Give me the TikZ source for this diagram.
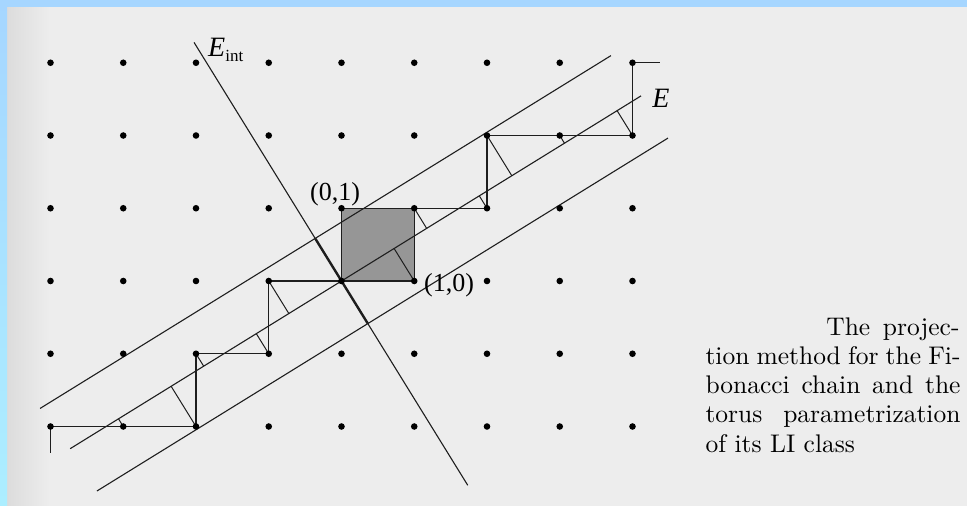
\documentclass[tikz,border=0pt]{standalone}
\usepackage{fontspec}
\newfontfamily\timesfont{Liberation Serif}
\usetikzlibrary{calc}
\definecolor{bluebar}{RGB}{166,214,255}
\definecolor{cyanbar}{RGB}{172,238,255}
\definecolor{pagebg}{RGB}{237,237,237}
\definecolor{pageedge}{RGB}{220,220,220}
\definecolor{sqfill}{RGB}{150,150,150}
\definecolor{ink}{RGB}{30,30,30}
\begin{document}
\begin{tikzpicture}[x=1pt,y=-1pt,
  dot/.style={circle,fill=black,inner sep=0pt,minimum size=6.6pt},
  ln/.style={draw=ink,line width=1.1pt},
  stair/.style={draw=ink,line width=1.15pt},
  tick/.style={draw=ink,line width=1pt},
  window/.style={draw=ink,line width=2.4pt},
  lab/.style={inner sep=0pt,font=\timesfont\fontsize{26}{26}\selectfont},
  captext/.style={inner sep=0pt,scale=2.55,font=\fontsize{10}{12}\selectfont}]
\useasboundingbox (0,0) rectangle (967,506);
% page background
\fill[pagebg] (0,0) rectangle (967,506);
\shade[left color=pageedge,right color=pagebg] (7,7) rectangle (50,506);
\fill[bluebar] (0,0) rectangle (967,7);
\shade[top color=bluebar,bottom color=cyanbar] (0,0) rectangle (7,506);
\begin{scope}[shift={(341.5pt,-281pt)},x=72.75pt,y=72.75pt]
  \def\ct{0.850651}\def\st{0.525731}\def\hw{0.688191}
  % lattice coordinates
  \foreach \m in {-4,...,4}
    \foreach \n in {-2,...,3}
      \coordinate (q\m x\n) at (\m,\n);
  % line ends
  \coordinate (Ea) at ({-4.385*\ct},{-4.385*\st});
  \coordinate (Eb) at ({4.84*\ct},{4.84*\st});
  \coordinate (Ua) at ({-4.446*\ct-\hw*\st},{-4.446*\st+\hw*\ct});
  \coordinate (Ub) at ({4.78*\ct-\hw*\st},{4.78*\st+\hw*\ct});
  \coordinate (La) at ({-4.377*\ct+\hw*\st},{-4.377*\st-\hw*\ct});
  \coordinate (Lb) at ({4.85*\ct+\hw*\st},{4.85*\st-\hw*\ct});
  \coordinate (Ia) at ({-3.856*\st},{3.856*\ct});
  \coordinate (Ib) at ({3.30*\st},{-3.30*\ct});
  \coordinate (Wa) at ({-\hw*\st},{\hw*\ct});
  \coordinate (Wb) at ({\hw*\st},{-\hw*\ct});
  \coordinate (s1) at (-4,-2.364);
  \coordinate (s2) at (4.378,3);
  % shaded unit square
  \filldraw[fill=sqfill,stair] (q0x0) -- (q1x0) -- (q1x1) -- (q0x1) -- cycle;
  % strip and spaces
  \draw[ln] (Ua) -- (Ub);
  \draw[ln] (La) -- (Lb);
  \draw[ln] (Ea) -- (Eb);
  \draw[ln] (Ia) -- (Ib);
  \draw[window] (Wa) -- (Wb);
  % projections onto E
  \foreach \p in {-3x-2,-2x-2,-2x-1,-1x-1,-1x0,1x0,1x1,2x1,2x2,3x2,4x2}
    \draw[tick] (q\p) -- ($(Ea)!(q\p)!(Eb)$);
  % staircase
  \draw[stair] (s1) -- (q-4x-2) -- (q-3x-2) -- (q-2x-2) -- (q-2x-1) -- (q-1x-1) -- (q-1x0) -- (q0x0);
  \draw[stair] (q1x1) -- (q2x1) -- (q2x2) -- (q3x2) -- (q4x2) -- (q4x3) -- (s2);
  % lattice points
  \foreach \m in {-4,...,4}
    \foreach \n in {-2,...,3}
      \node[dot] (d\m x\n) at (q\m x\n) {};
\end{scope}
% labels
\node[lab] (l01) at (335,194) {(0,1)};
\node[lab] (l10) at (449,285) {(1,0)};
\node[lab,anchor=base] (lE) at (661,107) {\fontsize{28}{28}\selectfont\itshape E};
\node[lab,anchor=base west] (lEi) at (208,56) {\fontsize{28}{28}\selectfont\itshape E\/\upshape\raisebox{-5.5pt}{\fontsize{17}{17}\selectfont int}};
% caption
\node[captext,anchor=base east] (c1) at (960,335) {\hbox to 52.2pt{The projec-}};
\node[captext,anchor=base west] (c2) at (705,364) {\hbox to 100pt{tion method for the Fi-}};
\node[captext,anchor=base west] (c3) at (705,393) {\hbox to 100pt{bonacci chain and the}};
\node[captext,anchor=base west] (c4) at (705,422) {\hbox to 100pt{torus parametrization}};
\node[captext,anchor=base west] (c5) at (705,452) {of its LI class};
\end{tikzpicture}
\end{document}
